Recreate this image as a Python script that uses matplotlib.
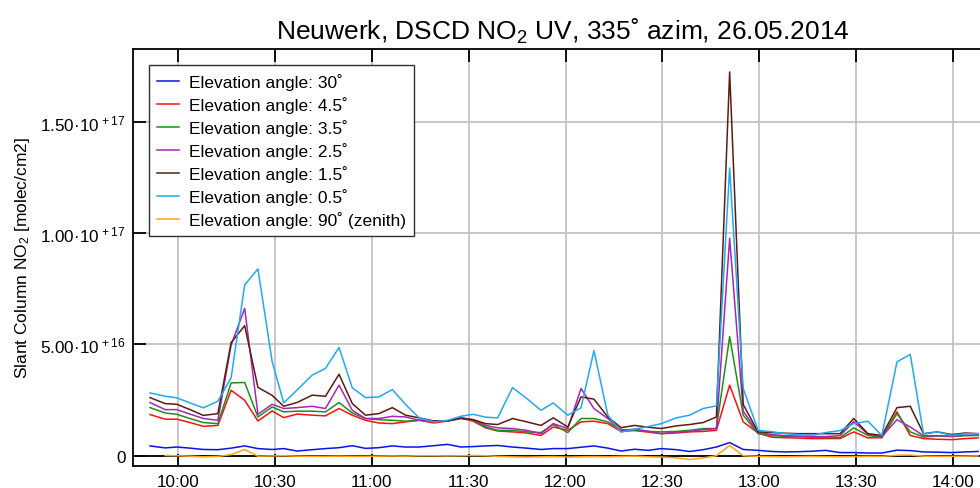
import numpy as np
import matplotlib
matplotlib.use("Agg")
import matplotlib.pyplot as plt
import matplotlib.dates as mdates
from matplotlib.ticker import FuncFormatter

plt.rcParams['font.family'] = ['Liberation Sans', 'DejaVu Sans']
plt.rcParams['mathtext.fontset'] = 'custom'
plt.rcParams['mathtext.rm'] = 'Liberation Sans'
plt.rcParams['mathtext.it'] = 'Liberation Sans'

# measurement times, minutes relative to 10:00 on 26.05.2014
time_min = [-8.6, -3.9, -0.3, 3.8, 7.9, 12.4, 16.5, 20.7, 24.8, 29.2,
            32.8, 36.9, 41.6, 45.7, 49.9, 54.0, 58.1, 62.2, 66.4, 70.5,
            74.7, 79.3, 83.5, 87.6, 91.4, 95.3, 99.0, 103.6, 108.0, 112.4,
            116.2, 120.7, 124.8, 128.8, 133.1, 137.2, 141.4, 145.6, 149.6, 154.3,
            158.4, 162.6, 166.7, 170.8, 175.0, 179.6, 183.8, 187.9, 192.1, 196.2,
            200.5, 205.0, 209.2, 213.6, 217.9, 222.6, 226.7, 230.8, 235.0, 239.6,
            243.8, 247.7]

# DSCD values in units of 1e16 molec/cm2
el_30 = [0.44, 0.35, 0.39, 0.34, 0.28, 0.27, 0.34, 0.44, 0.32, 0.28,
         0.32, 0.21, 0.27, 0.32, 0.36, 0.45, 0.33, 0.36, 0.44, 0.39,
         0.39, 0.45, 0.51, 0.39, 0.41, 0.44, 0.46, 0.39, 0.34, 0.28,
         0.32, 0.32, 0.38, 0.44, 0.34, 0.21, 0.29, 0.24, 0.32, 0.27,
         0.19, 0.27, 0.39, 0.59, 0.28, 0.24, 0.19, 0.17, 0.18, 0.20,
         0.24, 0.14, 0.14, 0.12, 0.12, 0.25, 0.23, 0.17, 0.16, 0.14,
         0.17, 0.19]
el_4_5 = [1.85, 1.64, 1.64, 1.49, 1.32, 1.36, 2.94, 2.49, 1.56, 2.01,
          1.71, 1.87, 1.82, 1.79, 2.12, 1.82, 1.59, 1.47, 1.44, 1.52,
          1.59, 1.47, 1.56, 1.69, 1.55, 1.25, 1.11, 1.07, 1.02, 0.91,
          1.29, 1.14, 1.52, 1.55, 1.44, 1.09, 1.13, 1.06, 0.99, 1.02,
          1.07, 1.09, 1.14, 3.17, 1.52, 1.02, 0.83, 0.81, 0.79, 0.77,
          0.77, 0.77, 1.07, 0.80, 0.81, 1.97, 0.91, 0.77, 0.74, 0.72,
          0.77, 0.80]
el_3_5 = [2.16, 1.92, 1.86, 1.67, 1.49, 1.44, 3.27, 3.29, 1.74, 2.19,
          1.97, 2.00, 2.00, 1.97, 2.39, 1.92, 1.67, 1.62, 1.59, 1.55,
          1.59, 1.56, 1.56, 1.69, 1.60, 1.29, 1.14, 1.14, 1.07, 1.04,
          1.40, 1.04, 1.67, 1.67, 1.52, 1.17, 1.15, 1.09, 1.07, 1.09,
          1.14, 1.22, 1.22, 5.35, 1.82, 0.99, 0.90, 0.87, 0.86, 0.83,
          0.82, 0.81, 1.25, 0.91, 0.81, 1.89, 1.07, 0.84, 0.88, 0.86,
          0.90, 0.91]
el_2_5 = [2.39, 2.07, 2.07, 1.87, 1.67, 1.59, 4.97, 6.62, 1.86, 2.31,
          2.12, 2.16, 2.22, 2.12, 3.17, 2.04, 1.67, 1.67, 1.77, 1.74,
          1.59, 1.56, 1.56, 1.71, 1.62, 1.36, 1.25, 1.22, 1.14, 0.99,
          1.44, 1.22, 3.02, 2.12, 1.67, 1.14, 1.19, 1.10, 0.99, 1.07,
          1.09, 1.17, 1.22, 9.77, 2.00, 1.04, 0.95, 0.90, 0.88, 0.86,
          0.86, 0.90, 1.53, 0.97, 0.86, 1.62, 1.29, 0.90, 0.90, 0.88,
          0.92, 0.92]
el_1_5 = [2.61, 2.34, 2.31, 2.07, 1.81, 1.89, 5.08, 5.84, 3.07, 2.71,
          2.22, 2.39, 2.72, 2.67, 3.66, 2.34, 1.82, 1.89, 2.16, 1.82,
          1.70, 1.56, 1.56, 1.67, 1.62, 1.44, 1.40, 1.67, 1.52, 1.36,
          1.70, 1.29, 2.64, 2.54, 1.74, 1.26, 1.36, 1.28, 1.22, 1.34,
          1.40, 1.49, 1.74, 17.24, 2.30, 1.07, 1.04, 1.01, 0.99, 0.99,
          0.99, 0.99, 1.67, 0.99, 0.91, 2.16, 2.22, 0.99, 1.07, 0.95,
          1.02, 0.99]
el_0_5 = [2.82, 2.67, 2.60, 2.37, 2.15, 2.45, 3.50, 7.67, 8.39, 4.23,
          2.37, 2.95, 3.62, 3.92, 4.86, 3.05, 2.61, 2.64, 2.97, 2.30,
          1.70, 1.52, 1.59, 1.77, 1.86, 1.73, 1.70, 3.06, 2.57, 2.04,
          2.37, 1.82, 2.15, 4.72, 1.82, 1.06, 1.19, 1.31, 1.44, 1.70,
          1.82, 2.12, 2.24, 12.93, 3.02, 1.14, 1.08, 0.99, 0.95, 0.91,
          1.04, 1.13, 1.44, 1.55, 0.91, 4.22, 4.55, 0.97, 1.07, 0.91,
          0.99, 0.99]
el_90 = [np.nan, 0.01, 0.00, -0.02, -0.05, -0.03, 0.05, 0.28, -0.02, -0.01,
         0.00, -0.02, -0.03, -0.03, -0.02, -0.03, -0.03, -0.02, -0.01, -0.02,
         0.00, 0.00, -0.01, 0.00, 0.01, 0.00, -0.03, -0.05, -0.06, -0.05,
         -0.04, -0.06, -0.05, -0.04, -0.05, -0.03, -0.02, -0.05, -0.06, -0.10,
         -0.17, -0.10, 0.00, 0.46, 0.00, -0.03, -0.04, -0.05, -0.04, -0.03,
         -0.04, -0.05, -0.04, -0.03, -0.03, 0.02, 0.03, -0.02, -0.03, -0.03,
         -0.02, -0.01]

labels = ["Elevation angle: 30˚", "Elevation angle: 4.5˚", "Elevation angle: 3.5˚",
          "Elevation angle: 2.5˚", "Elevation angle: 1.5˚", "Elevation angle: 0.5˚",
          "Elevation angle: 90˚ (zenith)"]
series = [el_30, el_4_5, el_3_5, el_2_5, el_1_5, el_0_5, el_90]
colors = ["#0a14e6", "#ff1010", "#179417", "#a626b8", "#5c1c12", "#1fa9f7", "#ffa31a"]

base = np.datetime64("2014-05-26T10:00:00")
times = base + (np.array(time_min) * 60).astype("timedelta64[s]")

fig = plt.figure(figsize=(9.8, 4.89), dpi=100)
ax = fig.add_axes([133 / 980, 1 - 466.5 / 489, 859 / 980, 416.5 / 489])

ax.axhline(0, color="black", lw=1.3, zorder=1.5)
for vals, lab, col in zip(series, labels, colors):
    ax.plot(times, np.array(vals) * 1e16, color=col, lw=1.1, label=lab, zorder=2)

ax.set_xlim(base - np.timedelta64(832, "s"), base + np.timedelta64(252 * 60, "s"))
ax.set_ylim(-0.44e16, 18.27e16)

ax.xaxis.set_major_locator(mdates.MinuteLocator(byminute=[0, 30]))
ax.xaxis.set_major_formatter(mdates.DateFormatter("%H:%M"))
ax.set_yticks([0, 5e16, 1e17, 1.5e17])


def sci_fmt(v, pos):
    if v == 0:
        return "0"
    exp = int(np.floor(np.log10(abs(v))))
    man = v / 10 ** exp
    return r"%.2f·10$^{\,+%d}$" % (man, exp)


ax.yaxis.set_major_formatter(FuncFormatter(sci_fmt))

ax.grid(True, color="#c4c4c4", lw=1.3)
ax.set_axisbelow(True)
ax.tick_params(direction="in", length=9, width=1.3, labelsize=12.3,
               top=True, bottom=True, left=True, right=False)
ax.tick_params(axis="x", pad=6)
ax.tick_params(axis="y", pad=5)
for sp in ax.spines.values():
    sp.set_linewidth(1.3)

ax.set_ylabel("Slant Column NO$_2$ [molec/cm2]", fontsize=12.5, labelpad=6)
ax.set_title("Neuwerk, DSCD NO$_2$ UV, 335˚ azim, 26.05.2014", fontsize=19, pad=7)

leg = ax.legend(loc="upper left", bbox_to_anchor=(16 / 859, 1 - 16 / 416.5),
                borderaxespad=0, fontsize=12.5, handlelength=1.3, handletextpad=0.55,
                labelspacing=0.35, fancybox=False, framealpha=1, borderpad=0.45)
leg.get_frame().set_edgecolor("#303030")
leg.get_frame().set_linewidth(1.0)

fig.savefig("out.png", dpi=100)
